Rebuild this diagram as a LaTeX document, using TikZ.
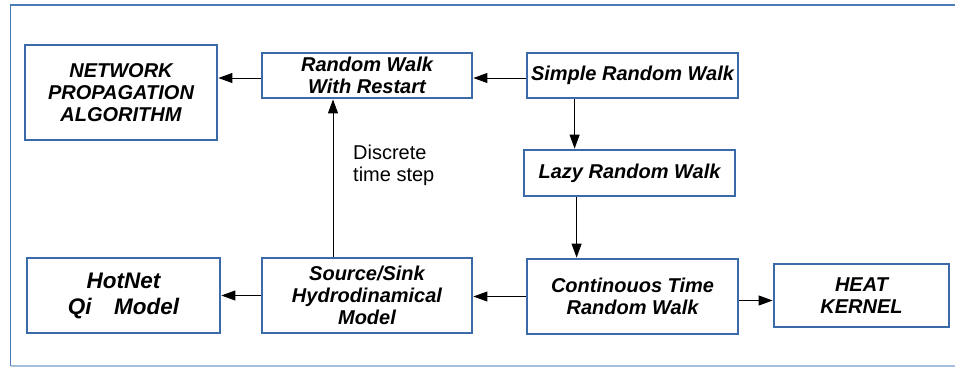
\documentclass[tikz,border=0pt]{standalone}
\usepackage{fontspec}
\setmainfont{Liberation Sans}
\usetikzlibrary{arrows.meta}
\definecolor{boxblue}{HTML}{3A6AA8}
\definecolor{framemid}{HTML}{4A7AB8}
\definecolor{framelight}{HTML}{A3BFE0}
\tikzset{
  stage/.style={draw=boxblue, line width=2.8pt, fill=white, rectangle,
    align=center, inner sep=2pt,
    font=\fontsize{20}{22}\selectfont\bfseries\itshape},
  arr/.style={draw=black, line width=1pt,
    -{Triangle[length=14pt,width=10pt]}},
  note/.style={align=left, inner sep=0pt,
    font=\fontsize{20}{22}\selectfont}
}
\begin{document}
\begin{tikzpicture}[x=1pt,y=-1pt]
\useasboundingbox (0,0) rectangle (955,367);
% outer frame
\draw[framemid, line width=1.8pt] (955,5) -- (10.5,5) -- (10.5,366);
\draw[framelight, line width=1.6pt] (10.5,366) -- (955,366);

% stages
\node[stage, minimum width=192pt, minimum height=95pt] (net) at (121,92.5)
  {NETWORK\\PROPAGATION\\ALGORITHM};
\node[stage, minimum width=210pt, minimum height=45pt] (rwr) at (367,75.5)
  {Random Walk\\With Restart};
\node[stage, minimum width=211pt, minimum height=45pt] (simple) at (632.5,75.5)
  {Simple Random Walk};
\node[stage, minimum width=211pt, minimum height=46pt] (lazy) at (629.5,173)
  {Lazy Random Walk};
\node[stage, minimum width=211pt, minimum height=75pt] (cont) at (632.5,296.5)
  {Continouos Time\\Random Walk};
\node[stage, minimum width=175pt, minimum height=63pt] (heat) at (861.5,295.5)
  {HEAT\\KERNEL};
\node[stage, minimum width=193pt, minimum height=75pt,
  font=\fontsize{22.5}{26}\selectfont\bfseries\itshape] (hot) at (123.5,295.5)
  {HotNet\\Qi\hspace{1em}Model};
\node[stage, minimum width=210pt, minimum height=75pt] (src) at (367,295.5)
  {Source/Sink\\Hydrodinamical\\Model};

\node[note, anchor=base west] (lbl) at (353,181) {Discrete\\time step};

% connectors
\draw[arr] ([yshift=-2.5pt]rwr.west) -- ([yshift=-2.5pt]rwr.west -| net.east);
\draw[arr] ([yshift=-2.5pt]simple.west) -- ([yshift=-2.5pt]simple.west -| rwr.east);
\draw[arr] ([xshift=49pt]simple.south west) -- ([xshift=49pt]simple.south west |- lazy.north);
\draw[arr] ([xshift=54pt]lazy.south west) -- ([xshift=54pt]lazy.south west |- cont.north);
\draw[arr] (cont.west) -- (cont.west -| src.east);
\draw[arr] (src.west) -- (src.west -| hot.east);
\draw[arr] ([yshift=-4pt]cont.east) -- ([yshift=-4pt]cont.east -| heat.west);
\draw[arr] ([xshift=-34pt]src.north) -- ([xshift=-34pt]rwr.south);
\end{tikzpicture}
\end{document}
